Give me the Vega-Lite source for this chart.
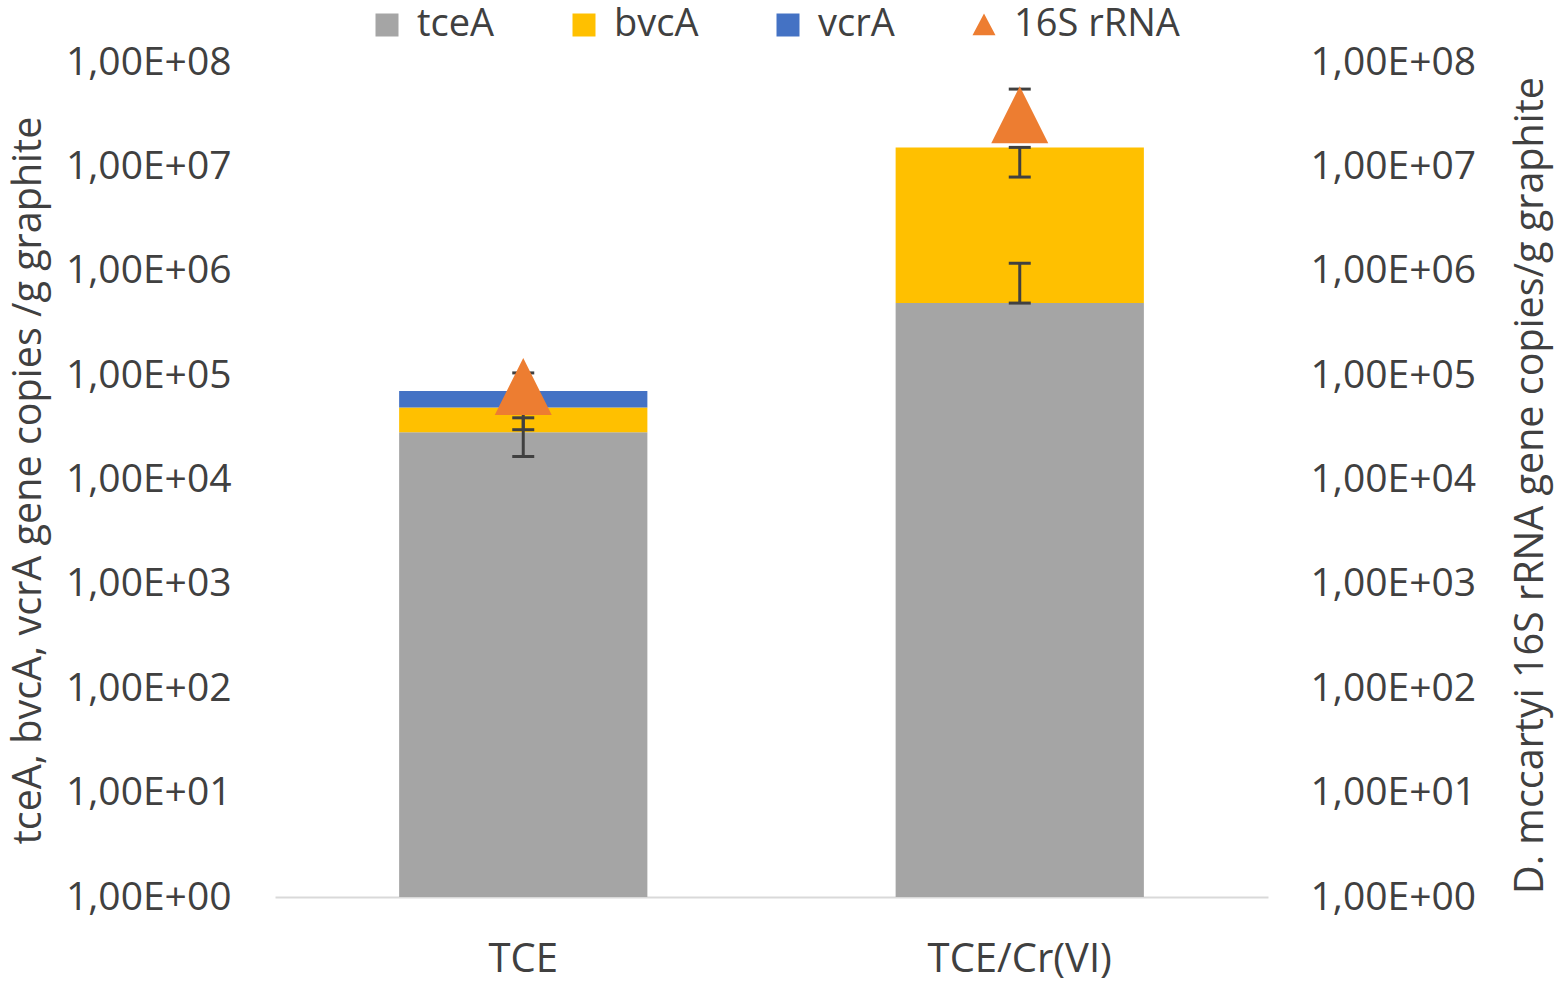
{
  "$schema": "https://vega.github.io/schema/vega-lite/v6.json",
  "width": 993,
  "height": 835,
  "autosize": {"type": "none"},
  "padding": {"left": 275, "top": 62, "right": 291, "bottom": 87},
  "background": "white",
  "config": {
    "font": "Open Sans",
    "view": {"stroke": null},
    "axis": {"grid": false, "ticks": false, "labelFontSize": 39, "labelLimit": 0, "labelColor": "#404040", "titleColor": "#404040", "titleFontWeight": "normal", "titleLimit": 0}
  },
  "datasets": {
    "bars": [
      {"group": "TCE", "series": "tceA", "lo": 1, "hi": 28400},
      {"group": "TCE", "series": "bvcA", "lo": 28400, "hi": 49000},
      {"group": "TCE", "series": "vcrA", "lo": 49000, "hi": 70300},
      {"group": "TCE/Cr(VI)", "series": "tceA", "lo": 1, "hi": 490000},
      {"group": "TCE/Cr(VI)", "series": "bvcA", "lo": 490000, "hi": 15200000}
    ],
    "errs": [
      {"group": "TCE", "series": "tceA", "elo": 16600, "ehi": 39000},
      {"group": "TCE", "series": "bvcA", "elo": 30000, "ehi": 49000},
      {"group": "TCE/Cr(VI)", "series": "tceA", "elo": 490000, "ehi": 1180000},
      {"group": "TCE/Cr(VI)", "series": "bvcA", "elo": 7900000, "ehi": 15200000}
    ],
    "rrna": [
      {"group": "TCE", "series": "16S rRNA", "value": 77600, "elo": 77600, "ehi": 105000},
      {"group": "TCE/Cr(VI)", "series": "16S rRNA", "value": 31300000, "elo": 31300000, "ehi": 55000000}
    ]
  },
  "encoding": {
    "x": {
      "field": "group", "type": "nominal",
      "scale": {"domain": ["TCE", "TCE/Cr(VI)"], "paddingInner": 0.5, "paddingOuter": 0.25},
      "axis": {"title": null, "labelAngle": 0, "labelPadding": 42, "domainColor": "#D9D9D9", "domainWidth": 2, "labelFontSize": 40, "labelLimit": 0}
    }
  },
  "layer": [
    {
      "layer": [
        {
          "data": {"name": "bars"},
          "mark": {"type": "bar"},
          "encoding": {
            "y": {
              "field": "lo", "type": "quantitative",
              "scale": {"type": "log", "domain": [1, 100000000], "nice": false},
              "axis": {
                "orient": "left",
                "values": [1, 10, 100, 1000, 10000, 100000, 1000000, 10000000, 100000000],
                "labelExpr": "'1,00E+' + format(round(log(datum.value)/LN10), '02d')",
                "domain": false,
                "labelPadding": 44,
                "title": "tceA, bvcA, vcrA gene copies /g graphite",
                "titleFontSize": 39.5,
                "titleAngle": 270,
                "titleX": -247,
                "titleY": 418,
                "titleAlign": "center",
                "titleBaseline": "middle"
              }
            },
            "y2": {"field": "hi"},
            "color": {
              "field": "series", "type": "nominal",
              "scale": {"domain": ["tceA", "bvcA", "vcrA", "16S rRNA"], "range": ["#A5A5A5", "#FFC000", "#4472C4", "#ED7D31"]},
              "legend": {
                "title": null,
                "orient": "none",
                "direction": "horizontal",
                "legendX": 93,
                "legendY": -56,
                "labelFontSize": 38,
                "labelLimit": 0,
                "labelColor": "#404040",
                "symbolSize": 529,
                "symbolType": "square",
                "symbolStrokeWidth": 0,
                "labelOffset": 11,
                "columnPadding": 70,
                "gridAlign": "none",
                "encode": {
                  "symbols": {"update": {"shape": {"signal": "datum.value === '16S rRNA' ? 'M-1,0.9L0,-1L1,0.9Z' : 'square'"}}}
                }
              }
            }
          }
        },
        {
          "data": {"name": "errs"},
          "mark": {"type": "rule", "color": "#404040", "strokeWidth": 3},
          "encoding": {"y": {"field": "elo", "type": "quantitative"}, "y2": {"field": "ehi"}}
        },
        {
          "data": {"name": "errs"},
          "mark": {"type": "tick", "color": "#404040", "thickness": 3, "size": 22, "opacity": 1},
          "encoding": {"y": {"field": "elo", "type": "quantitative"}}
        },
        {
          "data": {"name": "errs"},
          "mark": {"type": "tick", "color": "#404040", "thickness": 3, "size": 22, "opacity": 1},
          "encoding": {"y": {"field": "ehi", "type": "quantitative"}}
        }
      ]
    },
    {
      "layer": [
        {
          "data": {"name": "rrna"},
          "mark": {"type": "rule", "color": "#404040", "strokeWidth": 3},
          "encoding": {
            "y": {
              "field": "elo", "type": "quantitative",
              "scale": {"type": "log", "domain": [1, 100000000], "nice": false},
              "axis": {
                "orient": "right",
                "values": [1, 10, 100, 1000, 10000, 100000, 1000000, 10000000, 100000000],
                "labelExpr": "'1,00E+' + format(round(log(datum.value)/LN10), '02d')",
                "domain": false,
                "labelPadding": 42,
                "title": "D. mccartyi 16S rRNA gene copies/g graphite",
                "titleAngle": 270,
                "titleFontSize": 39.5,
                "titleX": 262,
                "titleY": 423,
                "titleAlign": "center",
                "titleBaseline": "middle"
              }
            },
            "y2": {"field": "ehi"}
          }
        },
        {
          "data": {"name": "rrna"},
          "mark": {"type": "tick", "color": "#404040", "thickness": 3, "size": 22, "opacity": 1},
          "encoding": {"y": {"field": "ehi", "type": "quantitative"}}
        },
        {
          "data": {"name": "rrna"},
          "mark": {"type": "point", "filled": true, "opacity": 1, "shape": "M-1,1L0,-1L1,1Z", "size": 3250},
          "encoding": {
            "y": {"field": "value", "type": "quantitative"},
            "color": {"field": "series", "type": "nominal"}
          }
        }
      ]
    }
  ],
  "resolve": {"scale": {"y": "independent"}, "axis": {"y": "independent"}}
}
